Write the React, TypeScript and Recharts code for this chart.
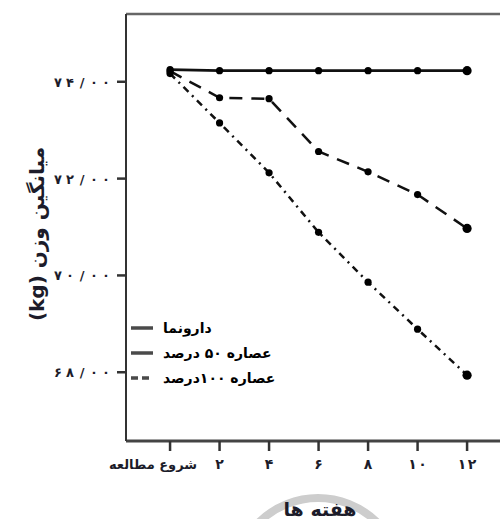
import { Legend, Line, LineChart, ReferenceLine, XAxis, YAxis } from "recharts"

const weeks = [0, 2, 4, 6, 8, 10, 12]
const weekLabels = ["شروع مطالعه", "۲", "۴", "۶", "۸", "۱۰", "۱۲"]

const placebo = [74.25, 74.23, 74.23, 74.23, 74.23, 74.23, 74.23]
const extract50 = [74.22, 73.67, 73.65, 72.56, 72.14, 71.67, 70.97]
const extract100 = [74.17, 73.15, 72.12, 70.89, 69.86, 68.89, 67.94]

const yTicks = [68, 70, 72, 74]
const yTickLabels = ["۶۸/۰۰", "۷۰/۰۰", "۷۲/۰۰", "۷۴/۰۰"]

const seriesNames = ["دارونما", "عصاره ۵۰ درصد", "عصاره ۱۰۰درصد"]

const data = weeks.map((w, i) => ({
  week: w,
  placebo: placebo[i],
  extract50: extract50[i],
  extract100: extract100[i],
}))

const series = [
  { key: "placebo", name: seriesNames[0], dash: undefined, legendDash: undefined },
  { key: "extract50", name: seriesNames[1], dash: "13 9", legendDash: undefined },
  { key: "extract100", name: seriesNames[2], dash: "7 5 2 5", legendDash: "7 4 7 4 3 3" },
]

const FONT = "'DejaVu Sans', sans-serif"
const INK = "#1c1c2a"

function renderDot(props: any) {
  const { cx, cy, index } = props
  const last = index === weeks.length - 1
  return <circle key={`d-${index}`} cx={cx} cy={cy} r={last ? 4.6 : 3.6} fill="#000" />
}

// characters drawn one by one so they can be spaced out like the source
function Spaced({ text, x, y, step, size }: { text: string; x: number; y: number; step: number; size: number }) {
  const chars = Array.from(text)
  return (
    <g>
      {chars.map((c, i) => (
        <text
          key={i}
          x={x + i * step}
          y={y}
          textAnchor="middle"
          fontFamily={FONT}
          fontWeight="bold"
          fontSize={size}
          fill={INK}
        >
          {c}
        </text>
      ))}
    </g>
  )
}

function XTick(props: any) {
  const { x, y, payload } = props
  const i = weeks.indexOf(payload.value)
  if (i === 0) {
    return (
      <text x={x + 27} y={y + 16} textAnchor="end" fontFamily={FONT} fontWeight="bold" fontSize={13} fill={INK}>
        {weekLabels[i]}
      </text>
    )
  }
  const n = Array.from(weekLabels[i]).length
  const step = 10
  return <Spaced text={weekLabels[i]} x={x - ((n - 1) * step) / 2} y={y + 16} step={step} size={14} />
}

function YTick(props: any) {
  const { x, y, payload } = props
  const i = yTicks.indexOf(payload.value)
  return <Spaced text={yTickLabels[i]} x={x - 57} y={y + 5} step={12} size={13} />
}

function LegendBox() {
  return (
    <div style={{ fontFamily: FONT, fontWeight: "bold", fontSize: 14, color: "#000" }}>
      {series.map((s) => (
        <div key={s.key} style={{ display: "flex", alignItems: "center", height: 25 }}>
          <svg width={24} height={6} style={{ marginRight: 8 }}>
            <line
              x1={0}
              y1={3}
              x2={22}
              y2={3}
              stroke="#4a4a4a"
              strokeWidth={3.5}
              strokeDasharray={s.legendDash}
            />
          </svg>
          <span dir="rtl">{s.name}</span>
        </div>
      ))}
    </div>
  )
}

export default function App() {
  return (
    <div style={{ position: "absolute", left: 0, top: 0, width: 500, height: 519, background: "#fff" }}>
      <svg width={500} height={519} style={{ position: "absolute", left: 0, top: 0 }}>
        <circle cx={318} cy={582} r={84} fill="none" stroke="#cdcdcd" strokeWidth={8} />
      </svg>
      <div style={{ position: "absolute", left: 0, top: 0 }}>
        <LineChart width={500} height={519} data={data} margin={{ top: 14, right: 0, left: 0, bottom: 0 }}>
          <XAxis
            dataKey="week"
            type="number"
            domain={[-1.78, 13.33]}
            ticks={weeks}
            allowDataOverflow
            height={78}
            tickSize={10}
            axisLine={{ stroke: "#444", strokeWidth: 3 }}
            tickLine={{ stroke: "#333", strokeWidth: 2.5 }}
            tick={<XTick />}
            label={{
              content: () => (
                <text x={320} y={516} textAnchor="middle" fontFamily={FONT} fontWeight="bold" fontSize={19} fill={INK}>
                  هفته ها
                </text>
              ),
            }}
          />
          <YAxis
            type="number"
            domain={[66.58, 75.4]}
            ticks={yTicks}
            allowDataOverflow
            width={126}
            tickSize={9}
            axisLine={{ stroke: "#333", strokeWidth: 2 }}
            tickLine={{ stroke: "#333", strokeWidth: 2.5 }}
            tick={<YTick />}
            label={{
              content: () => (
                <text
                  x={0}
                  y={0}
                  transform="translate(44 234) rotate(-90)"
                  textAnchor="middle"
                  direction="rtl"
                  fontFamily={FONT}
                  fontWeight="bold"
                  fontSize={20}
                  fill={INK}
                >
                  میانگین وزن (kg)
                </text>
              ),
            }}
          />
          <ReferenceLine y={75.4} stroke="#666" strokeWidth={2.5} ifOverflow="extendDomain" />
          <Legend
            layout="horizontal"
            verticalAlign="middle"
            align="center"
            content={<LegendBox />}
            wrapperStyle={{ left: 131, top: 315, width: "auto" }}
          />
          {series.map((s) => (
            <Line
              key={s.key}
              dataKey={s.key}
              name={s.name}
              stroke="#111"
              strokeWidth={s.key === "placebo" ? 2.8 : 2.5}
              strokeDasharray={s.dash}
              dot={renderDot}
              isAnimationActive={false}
            />
          ))}
        </LineChart>
      </div>
    </div>
  )
}
